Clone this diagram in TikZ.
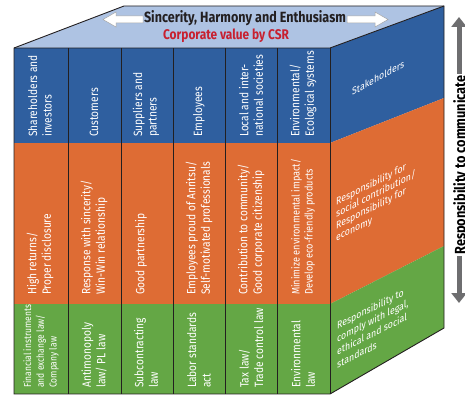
\documentclass[tikz,border=0pt]{standalone}
\usepackage{fontspec}
\setmainfont{Fira Sans}[FakeStretch=0.85]
\usetikzlibrary{arrows.meta}
\definecolor{cblue}{HTML}{2F5F9F}
\definecolor{corange}{HTML}{DE6C34}
\definecolor{cgreen}{HTML}{64A745}
\definecolor{ctop}{HTML}{AEC3E3}
\definecolor{cred}{HTML}{C8202F}
\definecolor{cline}{HTML}{231F20}
\definecolor{cgray}{HTML}{6E6E70}
\tikzset{
  edge/.style={draw=cline, line width=0.9pt},
  ftxt/.style={rotate=90, anchor=west, align=left, inner sep=0pt, text=white,
    font=\fontsize{12}{14.5}\selectfont},
  fsmall/.style={ftxt, font=\fontsize{10.8}{13}\selectfont},
  rtxt/.style={anchor=north west, align=left, inner sep=0pt, text=white,
    font=\fontsize{10.3}{12}\selectfont},
  whitearrow/.style={fill=white, draw=gray!70, line width=0.5pt}
}
\begin{document}
\begin{tikzpicture}[x=1pt,y=-1pt]
\useasboundingbox (0,0) rectangle (465,396);
\clip (0,0) rectangle (465,396);
% front face rows
\fill[cblue]   (14,48) rectangle (330,143);
\fill[corange] (14,143) rectangle (330,304);
\fill[cgreen]  (14,304) rectangle (330,394);
% right face
\fill[cblue]   (330,48) -- (444,6) -- (444,98) -- (330,143) -- cycle;
\fill[corange] (330,143) -- (444,98) -- (444,246) -- (330,304) -- cycle;
\fill[cgreen]  (330,304) -- (444,246) -- (444,328) -- (330,394) -- cycle;
% top face
\fill[ctop] (14,48) -- (124,6) -- (444,6) -- (330,48) -- cycle;
% column lines
\foreach \x in {68,121,173,225,277}{\draw[edge] (\x,48) -- (\x,394);}
% outlines
\draw[edge] (14,394) -- (14,48) -- (124,6) -- (444,6) -- (444,328) -- (330,394) -- cycle;
\draw[edge] (14,48) -- (330,48) -- (444,6);
\draw[edge] (330,48) -- (330,394);

% top face texts and arrows
\draw[whitearrow] (143,16) -- (116,16) -- (116,12) -- (103,19.5) -- (116,27) -- (116,23) -- (143,23) -- cycle;
\draw[whitearrow] (347,16) -- (375,16) -- (375,12) -- (388,19.5) -- (375,27) -- (375,23) -- (347,23) -- cycle;
\node[font=\bfseries\fontsize{14.8}{16}\selectfont, text=cline, inner sep=0pt] (t1) at (245,18) {Sincerity, Harmony and Enthusiasm};
\node[font=\bfseries\fontsize{14}{16}\selectfont, text=cred, inner sep=0pt] (t2) at (226,36) {Corporate value by CSR};

% blue row
\node[ftxt] (b1) at (40,137) {Shareholders and\\investors};
\node[ftxt] (b2) at (94,137) {Customers};
\node[ftxt] (b3) at (146,137) {Suppliers and\\partners};
\node[ftxt] (b4) at (199,137) {Employees};
\node[ftxt] (b5) at (251,137) {Local and inter-\\national societies};
\node[ftxt] (b6) at (303,137) {Environmental/\\Ecological systems};
% orange row
\node[ftxt] (o1) at (40,295) {High returns/\\Proper disclosure};
\node[ftxt] (o2) at (94,295) {Response with sincerity/\\Win-Win relationship};
\node[ftxt] (o3) at (141,295) {Good partnership};
\node[ftxt] (o4) at (199,295) {Employees proud of Anritsu/\\Self-motivated professionals};
\node[ftxt] (o5) at (251,295) {Contribution to community/\\Good corporate citizenship};
\node[fsmall] (o6) at (303,295) {Minimize environmental impact/\\Develop eco-friendly products};
% green row
\node[ftxt, font=\fontsize{10}{12.8}\selectfont] (g1) at (41,388) {Financial instruments\\and exchange law/\\Company law};
\node[ftxt] (g2) at (94,388) {Antimonopoly\\law/ PL law};
\node[ftxt] (g3) at (146,388) {Subcontracting\\law};
\node[ftxt] (g4) at (199,388) {Labor standards\\act};
\node[ftxt] (g5) at (251,388) {Tax law/\\Trade control law};
\node[ftxt] (g6) at (303,388) {Environmental\\law};

% right face texts (sheared)
\begin{scope}[shift={(352,88)}, cm={1,0.55,0,1,(0,0)}, transform shape]
  \node[rtxt] (s1) at (0,0) {Stakeholders};
\end{scope}
\begin{scope}[shift={(336,197)}, cm={1,0.5,0,1,(0,0)}, transform shape]
  \node[rtxt] (s2) at (0,0) {Responsibility for\\social contribution/\\Responsibility for\\economy};
\end{scope}
\begin{scope}[shift={(337,321)}, cm={1,0.5,0,1,(0,0)}, transform shape]
  \node[rtxt, font=\fontsize{10.3}{13}\selectfont] (s3) at (0,0) {Responsibility to\\comply with legal,\\ethical and social\\standards};
\end{scope}

% right arrow
\coordinate (atop) at (459,17);
\coordinate (abot) at (459,303);
\draw[cgray, line width=5pt, {Triangle[width=15pt,length=10pt]}-{Triangle[width=15pt,length=10pt]}] (atop) -- (abot);
\node[rotate=90, fill=white, inner sep=1pt, font=\bfseries\fontsize{15}{16}\selectfont, text=black] (rc) at (461,165) {Responsibility to communicate};
\end{tikzpicture}
\end{document}
